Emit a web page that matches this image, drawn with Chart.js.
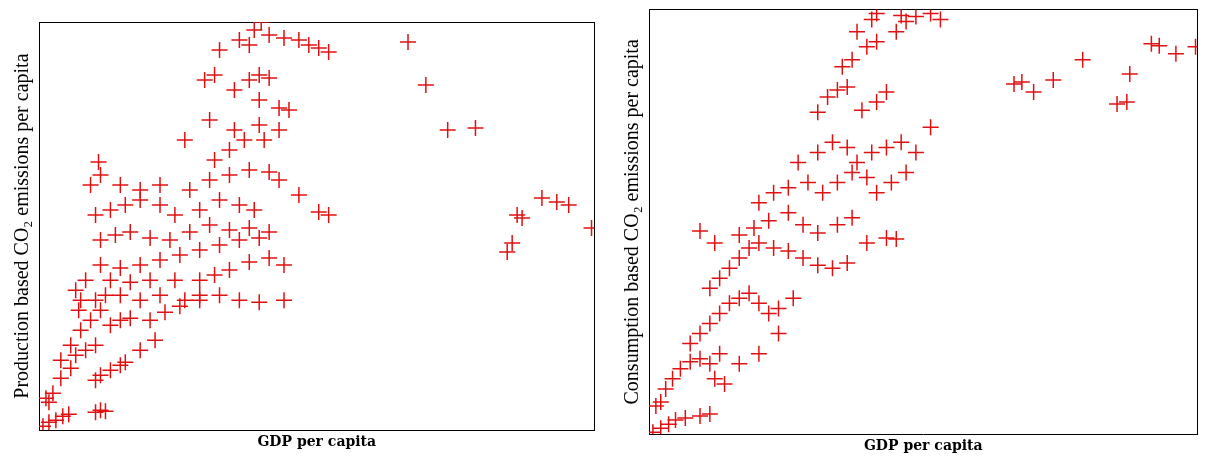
<!DOCTYPE html>
<html>
<head>
<meta charset="UTF-8">
<script src="https://cdn.jsdelivr.net/npm/chart.js"></script>
<style>
  body { margin: 0; background: #fff; width: 1207px; height: 461px; overflow: hidden; }
  .panel { position: absolute; top: 0; height: 461px; }
</style>
</head>
<body>
<div class="panel" style="left:0;width:604px"><canvas id="left"></canvas></div>
<div class="panel" style="left:610px;width:597px"><canvas id="right"></canvas></div>
<script>
// values (unitless GDP per capita vs CO2 per capita, picture scale)
const leftGdp = [42,48,55,62,68,95,100,105,45,52,48,
  60,70,75,85,95,100,110,120,95,125,80,90,100,110,120,130,150,165,180,185,200,140,155,
  75,80,95,105,120,140,160,110,130,150,175,200,215,230,250,270,285,200,220,240,260,285,
  100,120,140,160,180,200,220,240,260,
  100,115,130,150,170,190,210,230,250,270,
  95,110,125,140,160,175,200,220,240,255,
  90,100,98,120,140,160,190,210,230,250,270,280,300,320,330,
  215,230,245,265,185,210,235,260,280,
  205,215,235,250,260,270,280,290,260,
  220,240,250,255,262,270,285,300,310,320,330,
  410,428,450,478,545,560,572,595,520,525,515,510,60,70,78,85];
const leftCo2 = [426,422,420,416,414,412,410,411,398,393,402,
  378,368,355,350,345,375,370,365,380,362,330,320,310,325,320,318,320,312,306,300,300,350,340,
  290,300,300,295,295,300,295,280,282,280,280,280,275,270,262,258,265,295,295,300,302,300,
  265,268,265,260,255,250,245,240,238,
  240,235,232,238,240,232,225,230,228,232,
  215,210,205,200,205,215,210,200,205,210,
  185,175,162,185,190,185,190,180,175,170,172,180,195,212,215,
  160,150,140,140,140,120,130,125,130,
  80,75,90,80,75,78,108,110,100,
  50,40,45,30,22,35,38,40,45,48,52,
  42,85,130,128,198,202,205,228,215,218,243,252,360,345,310,280];

const rightGdp = [652,660,668,675,685,700,710,655,660,
  665,672,680,690,700,710,715,720,690,700,710,720,730,740,750,760,770,780,795,
  710,720,730,740,750,760,775,790,805,820,835,850,870,890,900,
  700,715,740,755,770,790,805,820,840,855,
  760,775,790,810,825,840,855,870,880,895,910,
  800,820,835,850,860,875,890,905,935,920,
  820,830,840,850,865,880,890,845,855,870,880,900,910,920,935,945,860,875,880,905,
  725,740,760,780,
  1020,1028,1040,1060,1090,1125,1135,1138,1160,1168,1185,1205];
const rightCo2 = [428,424,420,416,414,412,410,402,398,
  385,375,365,358,355,360,375,350,340,330,320,310,300,295,290,300,310,305,295,
  285,275,265,255,245,240,245,248,255,262,265,260,240,235,236,
  228,240,232,225,218,210,222,230,222,215,
  200,190,185,180,190,180,170,175,190,180,170,
  160,150,140,145,160,150,145,140,125,150,
  110,95,88,85,108,100,90,65,58,45,40,30,20,15,12,18,30,18,12,14,
  380,360,350,330,
  82,80,90,78,58,102,100,72,42,44,52,45];

const yLeft = 'Production based CO\u2082 emissions per capita';
const yRight = 'Consumption based CO\u2082 emissions per capita';
const xTitle = 'GDP per capita';

function makeChart(id, gdp, co2, xMin, xMax, yMin, yMax, yTitle, pad) {
  const pts = gdp.map((g, i) => ({ x: g, y: co2[i] }));
  new Chart(document.getElementById(id), {
    type: 'scatter',
    data: { datasets: [{ data: pts, pointStyle: 'cross', pointRadius: 8,
      borderColor: '#e01010', borderWidth: 1.5, backgroundColor: '#e01010' }] },
    options: {
      responsive: true, maintainAspectRatio: false, animation: false,
      layout: { padding: pad },
      plugins: { legend: { display: false }, tooltip: { enabled: false } },
      scales: {
        x: { min: xMin, max: xMax, grid: { display: false, drawTicks: false },
          ticks: { display: false }, border: { color: '#000', width: 1 },
          title: { display: true, text: xTitle, color: '#000',
            font: { family: 'DejaVu Serif', size: 14, weight: 'bold' } } },
        y: { min: yMin, max: yMax, reverse: true, grid: { display: false, drawTicks: false },
          ticks: { display: false }, border: { color: '#000', width: 1 },
          title: { display: true, text: yTitle, color: '#000', padding: 4,
            font: { family: 'Liberation Serif', size: 20 } } },
        x2: { position: 'top', display: true, grid: { display: false, drawTicks: false },
          ticks: { display: false }, border: { color: '#000' } },
        y2: { position: 'right', display: true, grid: { display: false, drawTicks: false },
          ticks: { display: false }, border: { color: '#000' } }
      }
    }
  });
}

makeChart('left', leftGdp, leftCo2, 38, 598, 22, 430, yLeft, { top: 22, right: 4, left: 7, bottom: 6 });
makeChart('right', rightGdp, rightCo2, 648, 1207, 8, 430, yRight, { top: 8, right: 0, left: 7, bottom: 2 });
</script>
</body>
</html>
